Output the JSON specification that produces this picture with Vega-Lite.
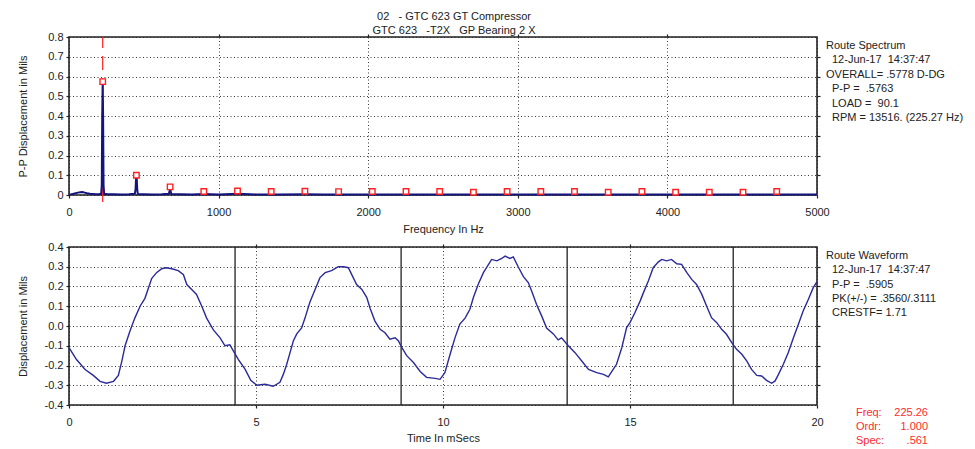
{
  "$schema": "https://vega.github.io/schema/vega-lite/v6.json",
  "background": "white",
  "padding": {"left": 16, "top": 10, "right": 0, "bottom": 0},
  "config": {
    "font": "Liberation Sans",
    "view": {"stroke": "#222", "strokeWidth": 1.6},
    "text": {"font": "Liberation Sans", "fontSize": 11, "color": "#222", "align": "left", "baseline": "top", "lineBreak": "\n"},
    "axis": {
      "domain": false,
      "tickColor": "#222",
      "tickSize": 3,
      "tickWidth": 1.2,
      "labelFont": "Liberation Sans",
      "labelFontSize": 11,
      "labelColor": "#222",
      "titleFont": "Liberation Sans",
      "titleFontSize": 11,
      "titleFontWeight": "normal",
      "titleColor": "#222",
      "gridColor": "#222",
      "gridDash": [1, 2.5],
      "gridOpacity": 0.9,
      "gridWidth": 1
    }
  },
  "datasets": {
    "spectrum": [
      {"f": 0, "a": 0.003}, {"f": 15, "a": 0.004}, {"f": 30, "a": 0.006}, {"f": 45, "a": 0.009},
      {"f": 60, "a": 0.012}, {"f": 75, "a": 0.014}, {"f": 90, "a": 0.015}, {"f": 105, "a": 0.012},
      {"f": 120, "a": 0.009}, {"f": 140, "a": 0.006}, {"f": 160, "a": 0.005}, {"f": 180, "a": 0.004},
      {"f": 200, "a": 0.004}, {"f": 215, "a": 0.006}, {"f": 219, "a": 0.05}, {"f": 222, "a": 0.4},
      {"f": 225.3, "a": 0.578}, {"f": 228, "a": 0.4}, {"f": 231, "a": 0.05}, {"f": 235, "a": 0.006},
      {"f": 260, "a": 0.004}, {"f": 300, "a": 0.004}, {"f": 350, "a": 0.003}, {"f": 400, "a": 0.004},
      {"f": 440, "a": 0.006}, {"f": 445, "a": 0.03}, {"f": 448, "a": 0.08}, {"f": 450.5, "a": 0.1},
      {"f": 453, "a": 0.08}, {"f": 456, "a": 0.03}, {"f": 460, "a": 0.005}, {"f": 500, "a": 0.004},
      {"f": 560, "a": 0.003}, {"f": 620, "a": 0.004}, {"f": 668, "a": 0.006}, {"f": 672, "a": 0.02},
      {"f": 675.8, "a": 0.035}, {"f": 679, "a": 0.02}, {"f": 684, "a": 0.005}, {"f": 750, "a": 0.004},
      {"f": 820, "a": 0.003}, {"f": 901, "a": 0.005}, {"f": 1000, "a": 0.003}, {"f": 1126, "a": 0.006},
      {"f": 1250, "a": 0.003}, {"f": 1400, "a": 0.003}, {"f": 1577, "a": 0.004}, {"f": 1700, "a": 0.003},
      {"f": 1900, "a": 0.003}, {"f": 2100, "a": 0.003}, {"f": 2300, "a": 0.003}, {"f": 2500, "a": 0.003},
      {"f": 2700, "a": 0.003}, {"f": 2900, "a": 0.003}, {"f": 3100, "a": 0.003}, {"f": 3300, "a": 0.003},
      {"f": 3500, "a": 0.003}, {"f": 3700, "a": 0.003}, {"f": 3900, "a": 0.003}, {"f": 4100, "a": 0.003},
      {"f": 4300, "a": 0.003}, {"f": 4500, "a": 0.003}, {"f": 4700, "a": 0.003}, {"f": 4900, "a": 0.003},
      {"f": 5000, "a": 0.003}
    ],
    "harmonics": [
      {"f": 225.27, "a": 0.574}, {"f": 450.5, "a": 0.1}, {"f": 675.8, "a": 0.041}, {"f": 901.1, "a": 0.018},
      {"f": 1126.4, "a": 0.02}, {"f": 1351.6, "a": 0.018}, {"f": 1576.9, "a": 0.019}, {"f": 1802.2, "a": 0.017},
      {"f": 2027.4, "a": 0.018}, {"f": 2252.7, "a": 0.018}, {"f": 2478, "a": 0.018}, {"f": 2703.2, "a": 0.014},
      {"f": 2928.5, "a": 0.018}, {"f": 3153.8, "a": 0.018}, {"f": 3379, "a": 0.018}, {"f": 3604.3, "a": 0.014},
      {"f": 3829.6, "a": 0.018}, {"f": 4054.9, "a": 0.014}, {"f": 4280.1, "a": 0.014}, {"f": 4505.4, "a": 0.014},
      {"f": 4730.7, "a": 0.018}
    ],
    "cursor": [{"f": 225.27}],
    "specinfo": [{
      "l1": "Route Spectrum",
      "l2": "12-Jun-17\u00a0\u00a014:37:47",
      "l3": "OVERALL= .5778 D-DG",
      "l4": "P-P =\u00a0\u00a0.5763\nLOAD =\u00a0\u00a090.1\nRPM = 13516. (225.27 Hz)"
    }],
    "waveinfo": [{
      "l1": "Route Waveform",
      "l2": "12-Jun-17\u00a0\u00a014:37:47\nP-P =\u00a0\u00a0.5905\nPK(+/-) = .3560/.3111\nCRESTF= 1.71"
    }],
    "cursorinfo": [{"name": "Freq:\nOrdr:\nSpec:", "val": "225.26\n1.000\n.561"}],
    "revs": [{"t": 4.44}, {"t": 8.88}, {"t": 13.32}, {"t": 17.76}],
    "wave": [
      {"t": 0, "v": -0.11}, {"t": 0.2, "v": -0.17}, {"t": 0.43, "v": -0.22}, {"t": 0.65, "v": -0.25},
      {"t": 0.83, "v": -0.28}, {"t": 1.0, "v": -0.29}, {"t": 1.19, "v": -0.28}, {"t": 1.32, "v": -0.25},
      {"t": 1.41, "v": -0.18}, {"t": 1.5, "v": -0.1}, {"t": 1.63, "v": -0.025}, {"t": 1.76, "v": 0.04},
      {"t": 1.9, "v": 0.1}, {"t": 2.03, "v": 0.14}, {"t": 2.12, "v": 0.19}, {"t": 2.21, "v": 0.24},
      {"t": 2.34, "v": 0.27}, {"t": 2.48, "v": 0.29}, {"t": 2.59, "v": 0.295}, {"t": 2.75, "v": 0.29},
      {"t": 2.92, "v": 0.28}, {"t": 3.06, "v": 0.26}, {"t": 3.15, "v": 0.21}, {"t": 3.28, "v": 0.185},
      {"t": 3.41, "v": 0.16}, {"t": 3.55, "v": 0.1}, {"t": 3.68, "v": 0.04}, {"t": 3.86, "v": -0.02},
      {"t": 4.04, "v": -0.06}, {"t": 4.17, "v": -0.1}, {"t": 4.3, "v": -0.095}, {"t": 4.39, "v": -0.125},
      {"t": 4.53, "v": -0.17}, {"t": 4.71, "v": -0.22}, {"t": 4.86, "v": -0.275}, {"t": 5.02, "v": -0.3},
      {"t": 5.24, "v": -0.295}, {"t": 5.46, "v": -0.305}, {"t": 5.64, "v": -0.285}, {"t": 5.73, "v": -0.245},
      {"t": 5.82, "v": -0.195}, {"t": 5.91, "v": -0.135}, {"t": 6.0, "v": -0.075}, {"t": 6.09, "v": -0.04},
      {"t": 6.22, "v": -0.01}, {"t": 6.31, "v": 0.04}, {"t": 6.44, "v": 0.12}, {"t": 6.58, "v": 0.185},
      {"t": 6.71, "v": 0.245}, {"t": 6.85, "v": 0.27}, {"t": 7.02, "v": 0.28}, {"t": 7.2, "v": 0.3},
      {"t": 7.34, "v": 0.3}, {"t": 7.47, "v": 0.295}, {"t": 7.56, "v": 0.26}, {"t": 7.69, "v": 0.21},
      {"t": 7.83, "v": 0.185}, {"t": 7.96, "v": 0.145}, {"t": 8.05, "v": 0.09}, {"t": 8.18, "v": 0.025},
      {"t": 8.32, "v": -0.017}, {"t": 8.45, "v": -0.034}, {"t": 8.58, "v": -0.067}, {"t": 8.72, "v": -0.06},
      {"t": 8.81, "v": -0.076}, {"t": 8.9, "v": -0.11}, {"t": 9.03, "v": -0.15}, {"t": 9.21, "v": -0.185},
      {"t": 9.39, "v": -0.23}, {"t": 9.56, "v": -0.26}, {"t": 9.79, "v": -0.265}, {"t": 9.92, "v": -0.27},
      {"t": 10.05, "v": -0.236}, {"t": 10.19, "v": -0.143}, {"t": 10.32, "v": -0.06}, {"t": 10.45, "v": 0.01},
      {"t": 10.59, "v": 0.04}, {"t": 10.72, "v": 0.085}, {"t": 10.81, "v": 0.143}, {"t": 10.94, "v": 0.21},
      {"t": 11.08, "v": 0.27}, {"t": 11.21, "v": 0.31}, {"t": 11.3, "v": 0.337}, {"t": 11.44, "v": 0.33},
      {"t": 11.57, "v": 0.342}, {"t": 11.66, "v": 0.354}, {"t": 11.79, "v": 0.342}, {"t": 11.88, "v": 0.35},
      {"t": 12.01, "v": 0.3}, {"t": 12.15, "v": 0.25}, {"t": 12.28, "v": 0.22}, {"t": 12.37, "v": 0.177},
      {"t": 12.5, "v": 0.11}, {"t": 12.64, "v": 0.05}, {"t": 12.77, "v": -0.01}, {"t": 12.95, "v": -0.04},
      {"t": 13.08, "v": -0.07}, {"t": 13.17, "v": -0.06}, {"t": 13.35, "v": -0.1}, {"t": 13.53, "v": -0.135},
      {"t": 13.71, "v": -0.177}, {"t": 13.89, "v": -0.22}, {"t": 14.11, "v": -0.236}, {"t": 14.29, "v": -0.245},
      {"t": 14.42, "v": -0.258}, {"t": 14.55, "v": -0.22}, {"t": 14.64, "v": -0.194}, {"t": 14.78, "v": -0.11},
      {"t": 14.91, "v": -0.008}, {"t": 15.0, "v": 0.017}, {"t": 15.13, "v": 0.067}, {"t": 15.27, "v": 0.126},
      {"t": 15.36, "v": 0.169}, {"t": 15.49, "v": 0.228}, {"t": 15.62, "v": 0.295}, {"t": 15.76, "v": 0.325},
      {"t": 15.85, "v": 0.337}, {"t": 15.98, "v": 0.33}, {"t": 16.11, "v": 0.337}, {"t": 16.25, "v": 0.315},
      {"t": 16.38, "v": 0.312}, {"t": 16.52, "v": 0.27}, {"t": 16.65, "v": 0.236}, {"t": 16.78, "v": 0.21},
      {"t": 16.92, "v": 0.16}, {"t": 17.05, "v": 0.1}, {"t": 17.18, "v": 0.042}, {"t": 17.32, "v": 0.017},
      {"t": 17.45, "v": -0.017}, {"t": 17.58, "v": -0.042}, {"t": 17.72, "v": -0.084}, {"t": 17.85, "v": -0.118},
      {"t": 17.99, "v": -0.143}, {"t": 18.12, "v": -0.177}, {"t": 18.25, "v": -0.22}, {"t": 18.39, "v": -0.25},
      {"t": 18.52, "v": -0.253}, {"t": 18.65, "v": -0.275}, {"t": 18.79, "v": -0.29}, {"t": 18.88, "v": -0.278},
      {"t": 18.97, "v": -0.245}, {"t": 19.1, "v": -0.194}, {"t": 19.23, "v": -0.135}, {"t": 19.37, "v": -0.06},
      {"t": 19.5, "v": 0.008}, {"t": 19.63, "v": 0.076}, {"t": 19.77, "v": 0.135}, {"t": 19.9, "v": 0.194},
      {"t": 20, "v": 0.225}
    ]
  },
  "spacing": 52,
  "bounds": "flush",
  "vconcat": [
    {
      "width": 748,
      "height": 158,
      "title": {
        "text": ["02\u00a0\u00a0\u00a0- GTC 623 GT Compressor", "GTC 623\u00a0\u00a0\u00a0-T2X\u00a0\u00a0\u00a0GP Bearing 2 X"],
        "fontSize": 11,
        "fontWeight": "normal",
        "font": "Liberation Sans",
        "color": "#222",
        "anchor": "middle",
        "dx": 11,
        "offset": -5,
        "lineHeight": 14
      },
      "resolve": {"axis": {"x": "independent", "y": "independent"}},
      "layer": [
        {
          "data": {"name": "cursor"},
          "mark": {"type": "rule", "color": "#ff2020", "strokeWidth": 1.2, "strokeDash": [14, 8]},
          "encoding": {
            "x": {"field": "f", "type": "quantitative", "axis": null},
            "y": {"datum": -0.035, "type": "quantitative", "axis": null},
            "y2": {"datum": 0.8}
          }
        },
        {
          "data": {"name": "spectrum"},
          "mark": {"type": "line", "color": "#14147e", "strokeWidth": 2},
          "encoding": {
            "x": {
              "field": "f", "type": "quantitative",
              "scale": {"domain": [0, 5000], "nice": false, "zero": false},
              "axis": {"values": [0, 1000, 2000, 3000, 4000, 5000], "format": "d", "title": "Frequency In Hz", "labelPadding": 8, "titlePadding": 6, "grid": true, "labelFlush": false}
            },
            "y": {
              "field": "a", "type": "quantitative",
              "scale": {"domain": [0, 0.8], "nice": false},
              "axis": {"values": [0, 0.1, 0.2, 0.3, 0.4, 0.5, 0.6, 0.7, 0.8], "labelExpr": "datum.value == 0 ? '0' : format(datum.value, '.1f')", "title": "P-P Displacement in Mils", "labelPadding": 3, "titlePadding": 19, "grid": true, "labelFlush": false}
            }
          }
        },
        {
          "data": {"name": "harmonics"},
          "mark": {"type": "point", "shape": "square", "size": 30, "filled": true, "fill": "white", "stroke": "#ff2020", "strokeWidth": 1.4, "opacity": 1},
          "encoding": {
            "x": {"field": "f", "type": "quantitative", "axis": null},
            "y": {"field": "a", "type": "quantitative", "axis": null}
          }
        },
        {
          "data": {"name": "specinfo"},
          "mark": {"type": "text", "dx": 9, "dy": 3},
          "encoding": {
            "x": {"datum": 5000, "type": "quantitative", "axis": {"orient": "top", "labels": false, "title": null, "grid": false, "values": [1000, 2000, 3000, 4000]}},
            "y": {"datum": 0.8, "type": "quantitative", "axis": {"orient": "right", "labels": false, "title": null, "grid": false, "values": [0.1, 0.2, 0.3, 0.4, 0.5, 0.6, 0.7]}},
            "text": {"field": "l1"}
          }
        },
        {
          "data": {"name": "specinfo"},
          "mark": {"type": "text", "dx": 15, "dy": 17.4},
          "encoding": {
            "x": {"datum": 5000, "type": "quantitative", "axis": null},
            "y": {"datum": 0.8, "type": "quantitative", "axis": null},
            "text": {"field": "l2"}
          }
        },
        {
          "data": {"name": "specinfo"},
          "mark": {"type": "text", "dx": 9, "dy": 31.8},
          "encoding": {
            "x": {"datum": 5000, "type": "quantitative", "axis": null},
            "y": {"datum": 0.8, "type": "quantitative", "axis": null},
            "text": {"field": "l3"}
          }
        },
        {
          "data": {"name": "specinfo"},
          "mark": {"type": "text", "dx": 15, "dy": 46.2, "lineHeight": 14.4},
          "encoding": {
            "x": {"datum": 5000, "type": "quantitative", "axis": null},
            "y": {"datum": 0.8, "type": "quantitative", "axis": null},
            "text": {"field": "l4"}
          }
        }
      ]
    },
    {
      "width": 748,
      "height": 158,
      "resolve": {"axis": {"x": "independent", "y": "independent"}},
      "layer": [
        {
          "data": {"name": "revs"},
          "mark": {"type": "rule", "color": "#222", "strokeWidth": 1.3},
          "encoding": {
            "x": {"field": "t", "type": "quantitative", "axis": null}
          }
        },
        {
          "data": {"name": "wave"},
          "mark": {"type": "line", "color": "#2a2a98", "strokeWidth": 1.4},
          "encoding": {
            "x": {
              "field": "t", "type": "quantitative",
              "scale": {"domain": [0, 20], "nice": false},
              "axis": {"values": [0, 5, 10, 15, 20], "title": "Time In mSecs", "labelPadding": 8, "titlePadding": 5, "grid": true, "labelFlush": false}
            },
            "y": {
              "field": "v", "type": "quantitative",
              "scale": {"domain": [-0.4, 0.4], "nice": false, "zero": false},
              "axis": {"values": [-0.4, -0.3, -0.2, -0.1, 0, 0.1, 0.2, 0.3, 0.4], "labelExpr": "datum.value < 0 ? '-' + format(-datum.value, '.1f') : format(datum.value, '.1f')", "title": "Displacement in Mils", "labelPadding": 3, "titlePadding": 16, "grid": true, "labelFlush": false}
            }
          }
        },
        {
          "data": {"name": "waveinfo"},
          "mark": {"type": "text", "dx": 9, "dy": 3},
          "encoding": {
            "x": {"datum": 20, "type": "quantitative", "axis": {"orient": "top", "labels": false, "title": null, "grid": false, "values": [5, 10, 15]}},
            "y": {"datum": 0.4, "type": "quantitative", "axis": {"orient": "right", "labels": false, "title": null, "grid": false, "values": [-0.3, -0.2, -0.1, 0, 0.1, 0.2, 0.3]}},
            "text": {"field": "l1"}
          }
        },
        {
          "data": {"name": "waveinfo"},
          "mark": {"type": "text", "dx": 15, "dy": 17.3, "lineHeight": 14.3},
          "encoding": {
            "x": {"datum": 20, "type": "quantitative", "axis": null},
            "y": {"datum": 0.4, "type": "quantitative", "axis": null},
            "text": {"field": "l2"}
          }
        },
        {
          "data": {"name": "cursorinfo"},
          "mark": {"type": "text", "dx": 39, "dy": 2, "lineHeight": 14, "color": "#ff2a2a"},
          "encoding": {
            "x": {"datum": 20, "type": "quantitative", "axis": null},
            "y": {"datum": -0.4, "type": "quantitative", "axis": null},
            "text": {"field": "name"}
          }
        },
        {
          "data": {"name": "cursorinfo"},
          "mark": {"type": "text", "align": "right", "dx": 111, "dy": 2, "lineHeight": 14, "color": "#ff2a2a"},
          "encoding": {
            "x": {"datum": 20, "type": "quantitative", "axis": null},
            "y": {"datum": -0.4, "type": "quantitative", "axis": null},
            "text": {"field": "val"}
          }
        }
      ]
    }
  ]
}
